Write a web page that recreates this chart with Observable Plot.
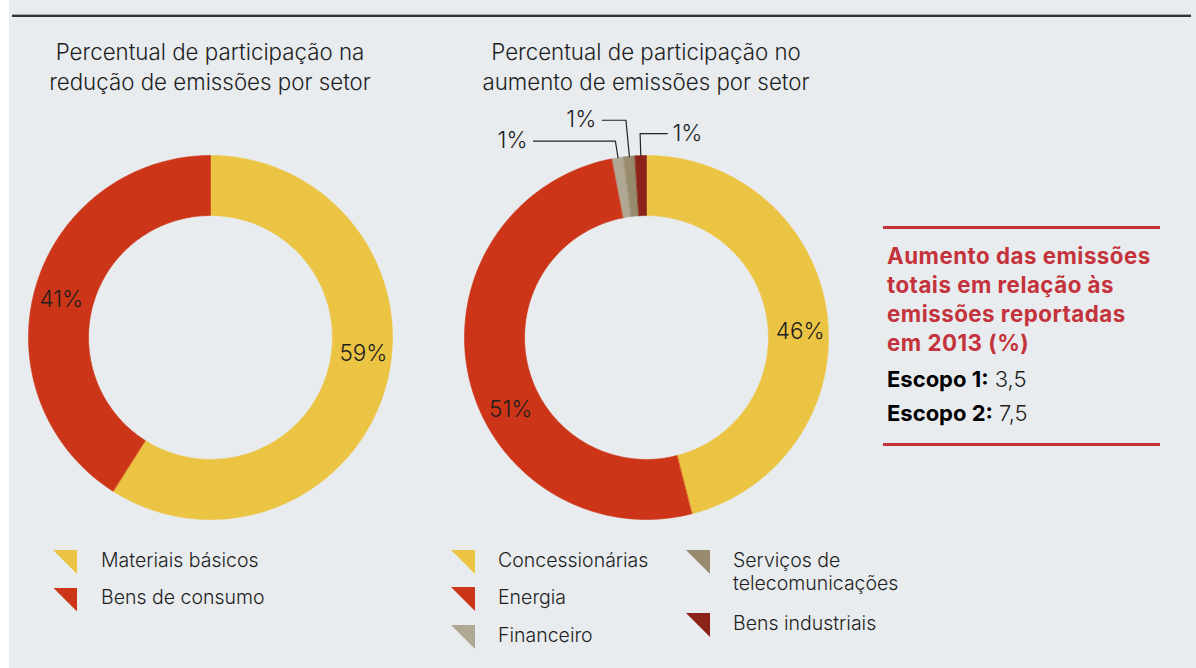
<!DOCTYPE html>
<html>
<head>
<meta charset="utf-8">
<script src="https://cdn.jsdelivr.net/npm/d3@7"></script>
<script src="https://cdn.jsdelivr.net/npm/@observablehq/plot@0.6"></script>
<style>
  html, body { margin: 0; padding: 0; background: #ffffff; }
  body { width: 1196px; height: 668px; position: relative; overflow: hidden; font-family: "Inter", "Liberation Sans", sans-serif; color: #1e1e1e; }
  #bg { position: absolute; left: 9px; top: 0; width: 1187px; height: 668px; background: #e8ecef; }
  .rule1 { position: absolute; left: 12px; top: 14px; width: 1179px; height: 1px; background: #9ea3a6; }
  .rule2 { position: absolute; left: 12px; top: 15px; width: 1179px; height: 2px; background: #2f3437; }
  .title { position: absolute; width: 440px; text-align: center; font-size: 22.3px; line-height: 30px; font-weight: 300; }
  .chart { position: absolute; }
  .chart svg { overflow: visible; background: transparent; }
  .leg { position: absolute; font-size: 19.5px; line-height: 23px; font-weight: 300; }
  .leg .mk { position: absolute; width: 24px; height: 24px; clip-path: polygon(0 0, 100% 0, 100% 100%); }
  .leg .tx { position: absolute; white-space: nowrap; }
  .side { position: absolute; left: 883px; width: 277px; }
  .side .line { position: absolute; left: 0; width: 277px; height: 3px; background: #c4333b; }
  .side .head { position: absolute; left: 4px; top: 15px; color: #c4333b; font-weight: 700; font-size: 22.3px; line-height: 29px; letter-spacing: 0.5px; white-space: nowrap; }
  .side .row { position: absolute; left: 4px; font-size: 22px; font-weight: 300; white-space: nowrap; }
  .side .row b { font-weight: 700; color: #000; }
</style>
</head>
<body>
<div id="bg"></div>
<div class="rule1"></div><div class="rule2"></div>
<div id="root"></div>
<script>
// ---------------- data ----------------
const leftTitleLines = ["Percentual de participação na", "redução de emissões por setor"];
const rightTitleLines = ["Percentual de participação no", "aumento de emissões por setor"];

const leftSectors = ["Materiais básicos", "Bens de consumo"];
const leftValues = [59, 41];

const rightSectors = ["Concessionárias", "Energia", "Financeiro", "Serviços de telecomunicações", "Bens industriais"];
const rightLegendLabels = ["Concessionárias", "Energia", "Financeiro", "Serviços de\ntelecomunicações", "Bens industriais"];
const rightValues = [46, 51, 1, 1, 1];

const sideTitleLines = ["Aumento das emissões", "totais em relação às", "emissões reportadas", "em 2013 (%)"];
const scopeLabels = ["Escopo 1:", "Escopo 2:"];
const scopeValues = ["3,5", "7,5"];

// ---------------- styles / layout ----------------
const sectorColors = {
  "Materiais básicos": "#ecc444",
  "Bens de consumo": "#cd3518",
  "Concessionárias": "#ecc444",
  "Energia": "#cd3518",
  "Financeiro": "#b1a894",
  "Serviços de telecomunicações": "#978a6d",
  "Bens industriais": "#8c2318"
};
const INNER = 0.67;        // inner radius as fraction of outer
const R_PX = 182;          // outer radius in px
const M = 50;              // margin around donut
const FONT = "Inter, Liberation Sans, sans-serif";
// label placement (angle in degrees clockwise from top)
const bigLabelAngle = {
  "Materiais básicos": 96, "Bens de consumo": 284,
  "Concessionárias": 88, "Energia": 242
};
const smallLeader = {
  "Financeiro": {r: 1.092, len: -0.45, anchor: "end"},
  "Serviços de telecomunicações": {r: 1.199, len: -0.13, anchor: "end"},
  "Bens industriais": {r: 1.121, len: 0.15, anchor: "start"}
};

function donut(sectors, values) {
  const total = d3.sum(values);
  let acc = 0;
  const slices = sectors.map((s, i) => {
    const a0 = acc / total * 2 * Math.PI;
    acc += values[i];
    const a1 = acc / total * 2 * Math.PI;
    const n = Math.max(3, Math.ceil((a1 - a0) / (2 * Math.PI) * 360));
    const pts = [];
    for (let k = 0; k <= n; k++) { const a = a0 + (a1 - a0) * k / n; pts.push({x: Math.sin(a), y: Math.cos(a)}); }
    for (let k = n; k >= 0; k--) { const a = a0 + (a1 - a0) * k / n; pts.push({x: INNER * Math.sin(a), y: INNER * Math.cos(a)}); }
    return {sector: s, value: values[i], a0, a1, pts};
  });
  const marks = [];
  for (const s of slices) {
    marks.push(Plot.line(s.pts, {x: "x", y: "y", fill: sectorColors[s.sector], stroke: sectorColors[s.sector], strokeWidth: 0.6, curve: "linear-closed"}));
  }
  const big = slices.filter(s => bigLabelAngle[s.sector] !== undefined).map(s => {
    const a = bigLabelAngle[s.sector] * Math.PI / 180, r = 0.845;
    return {x: r * Math.sin(a), y: r * Math.cos(a), t: s.value + "%"};
  });
  marks.push(Plot.text(big, {x: "x", y: "y", text: "t", fontSize: 22.5, fontWeight: 300, fill: "#1e1e1e", fontFamily: FONT}));
  for (const s of slices) {
    const L = smallLeader[s.sector];
    if (!L) continue;
    const a = (s.a0 + s.a1) / 2;
    const p0 = {x: Math.sin(a), y: Math.cos(a)};
    const p1 = {x: L.r * Math.sin(a), y: L.r * Math.cos(a)};
    const p2 = {x: p1.x + L.len, y: p1.y};
    marks.push(Plot.line([p0, p1, p2], {x: "x", y: "y", stroke: "#222", strokeWidth: 1.2}));
    marks.push(Plot.text([{x: p2.x, y: p2.y, t: s.value + "%"}], {x: "x", y: "y", text: "t", textAnchor: L.anchor, dx: L.anchor === "end" ? -6 : 5, fontSize: 22.5, fontWeight: 300, fill: "#1e1e1e", fontFamily: FONT}));
  }
  return Plot.plot({
    width: 2 * R_PX + 2 * M, height: 2 * R_PX + 2 * M, margin: M,
    x: {domain: [-1, 1], axis: null}, y: {domain: [-1, 1], axis: null},
    style: {background: "transparent", overflow: "visible"},
    marks
  });
}

const root = document.getElementById("root");
function add(el, cls, css) { const d = document.createElement("div"); if (cls) d.className = cls; Object.assign(d.style, css || {}); if (el) d.appendChild(el); root.appendChild(d); return d; }

function title(lines, cx) {
  const d = add(null, "title", {left: (cx - 220) + "px", top: "37px"});
  d.innerHTML = lines.join("<br>");
}
title(leftTitleLines, 210);
title(rightTitleLines, 646);

add(donut(leftSectors, leftValues), "chart", {left: (210 - R_PX - M) + "px", top: (337 - R_PX - M) + "px"});
add(donut(rightSectors, rightValues), "chart", {left: (646 - R_PX - M) + "px", top: (337 - R_PX - M) + "px"});

function legendItem(label, color, mx, my, tx) {
  const d = add(null, "leg", {left: "0px", top: "0px"});
  const mk = document.createElement("div"); mk.className = "mk"; Object.assign(mk.style, {left: mx + "px", top: my + "px", background: color}); d.appendChild(mk);
  const t = document.createElement("div"); t.className = "tx"; Object.assign(t.style, {left: tx + "px", top: (my - 1.5) + "px"}); t.innerHTML = label.replace("\n", "<br>"); d.appendChild(t);
}
leftSectors.forEach((s, i) => legendItem(s, sectorColors[s], 53, 550 + i * 37.5, 101));
const rightLegendPos = [
  {mx: 451, my: 550, tx: 498}, {mx: 451, my: 587, tx: 498}, {mx: 451, my: 625, tx: 498},
  {mx: 686, my: 550, tx: 733}, {mx: 686, my: 613, tx: 733}
];
rightSectors.forEach((s, i) => legendItem(rightLegendLabels[i], sectorColors[s], rightLegendPos[i].mx, rightLegendPos[i].my, rightLegendPos[i].tx));

const side = add(null, "side", {top: "226px", height: "220px"});
side.innerHTML = `<div class="line" style="top:0"></div>
<div class="head">${sideTitleLines.join("<br>")}</div>
<div class="row" style="top:140px"><b>${scopeLabels[0]}</b> ${scopeValues[0]}</div>
<div class="row" style="top:174px"><b>${scopeLabels[1]}</b> ${scopeValues[1]}</div>
<div class="line" style="top:217px"></div>`;
</script>
</body>
</html>
